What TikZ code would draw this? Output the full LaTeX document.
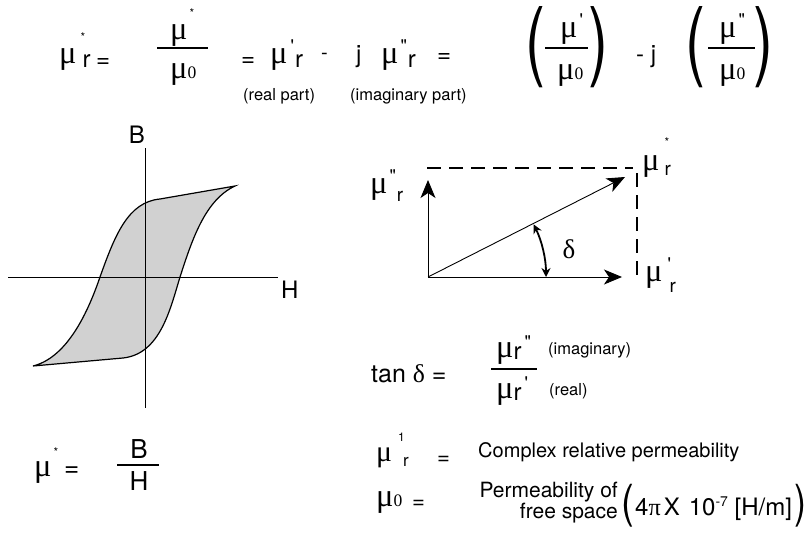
\documentclass[tikz,border=0pt]{standalone}
\usepackage{fontspec}
\setmainfont{TeX Gyre Heros}
\newfontfamily\grk[Scale=1.35]{Liberation Serif}
\usepackage{tikz}
\usetikzlibrary{arrows.meta}

\newcommand{\gmu}{{\grk μ}}
\newcommand{\nought}{{\grk\fontsize{13}{13}\selectfont 0}}
\newcommand{\tick}[1]{{\fontsize{18}{18}\selectfont #1}}
\newcommand{\tinystar}{{\fontsize{12}{12}\selectfont *}}

\begin{document}
\begin{tikzpicture}[x=1pt,y=-1pt,
    txt/.style={anchor=base west,inner sep=0pt,font=\fontsize{24}{28}\selectfont},
    note/.style={anchor=base west,inner sep=0pt,font=\fontsize{16.5}{19}\selectfont},
    bar/.style={line width=2.2pt},
    vec/.style={line width=0.9pt,-{Stealth[length=18pt,width=15pt,inset=5pt]}},
    dashline/.style={line width=2.6pt,dash pattern=on 14pt off 8pt},
    swing/.style={line width=1.8pt,{Stealth[length=9pt,width=9pt]}-{Stealth[length=9pt,width=9pt]}}]
    \useasboundingbox (0,0) rectangle (806,533);

    \node[txt] (mur) at (59,63) {\gmu\kern4pt\rlap{\raisebox{22pt}{\tinystar}}\kern2pt\raisebox{-4pt}{r}};
    \node[txt] (eq1) at (96,67) {=};
    \node[txt] (num1) at (170,39) {\gmu\kern2pt\raisebox{22pt}{\tinystar}};
    \draw[bar] (157,48) -- (208,48);
    \node[txt] (den1) at (170,78) {\gmu\nought};
    \node[txt] (eq2) at (241,66) {=};
    \node[txt] (mur1) at (270,63) {\gmu\kern3pt\raisebox{11pt}{\tick{\textquotesingle}}\kern1pt\raisebox{-4pt}{r}};
    \node[txt] (minus) at (321,59) {\fontsize{20}{20}\selectfont -};
    \node[txt] (j1) at (356,62) {j};
    \node[txt] (mur2) at (381,63) {\gmu\kern2pt\raisebox{11pt}{\tick{\textquotedbl}}\kern1pt\raisebox{-4pt}{r}};
    \node[txt] (eq3) at (437,62) {=};
    \node[note] (re) at (243,100) {(real part)};
    \node[note] (im) at (350,100) {(imaginary part)};

    \node (lp1) at (535,47) {\fontsize{24}{24}\selectfont\scalebox{2.5}[3.6]{(}};
    \node[txt] (num2) at (560,37) {\gmu\kern2pt\raisebox{11pt}{\tick{\textquotesingle}}};
    \draw[bar] (545,48) -- (588,48);
    \node[txt] (den2) at (557,79) {\gmu\nought};
    \node (rp1) at (598,47) {\fontsize{24}{24}\selectfont\scalebox{2.5}[3.6]{)}};
    \node[txt] (mj) at (636,62) {- j};
    \node (lp2) at (695,47) {\fontsize{24}{24}\selectfont\scalebox{2.5}[3.6]{(}};
    \node[txt] (num3) at (719,37) {\gmu\kern2pt\raisebox{11pt}{\tick{\textquotedbl}}};
    \draw[bar] (708,48) -- (755,48);
    \node[txt] (den3) at (719,79) {\gmu\nought};
    \node (rp2) at (763,47) {\fontsize{24}{24}\selectfont\scalebox{2.5}[3.6]{)}};

    \coordinate (hl) at (8,277);
    \coordinate (hr) at (278,277);
    \coordinate (vt) at (145,148);
    \coordinate (vb) at (145,408);
    \filldraw[fill=black!18,line width=1.2pt] (33,366) .. controls (65,358) and (86,318) .. (100,277)
        .. controls (115,235) and (128,202) .. (160,199) -- (235,186)
        .. controls (205,200) and (192,240) .. (180,277)
        .. controls (170,310) and (160,354) .. (123,358) -- cycle;
    \draw[line width=0.8pt] (hl) -- (hr);
    \draw[line width=0.8pt] (vt) -- (vb);
    \node[txt,anchor=base] (B) at (137,143) {B};
    \node[txt] (H) at (281,298) {H};

    \coordinate (O) at (428,277);
    \coordinate (Im) at (428,180);
    \coordinate (Re) at (622,277);
    \coordinate (Z) at (625,177);
    \coordinate (tl) at (427,168);
    \coordinate (tr) at (633,168);
    \coordinate (rt) at (637,173);
    \coordinate (rb) at (637,280);
    \draw[dashline] (tl) -- (tr);
    \draw[dashline] (rt) -- (rb);
    \draw[vec] (O) -- (Im);
    \draw[vec] (O) -- (Re);
    \draw[vec] (O) -- (Z);
    \draw[swing] (546,277) arc[start angle=0,end angle=26.5,radius=118pt];
    \node[txt,anchor=center,font=\fontsize{20}{20}\selectfont\grk] (dl) at (569,249) {δ};
    \node[txt] (lim) at (370,193) {\gmu\kern2pt\raisebox{11pt}{\tick{\textquotedbl}}\kern1pt\raisebox{-8pt}{\fontsize{19}{19}\selectfont r}};
    \node[txt] (lz) at (642,170) {\gmu\kern5pt\rlap{\raisebox{24pt}{\tinystar}}\raisebox{-5pt}{\fontsize{19}{19}\selectfont r}};
    \node[txt] (lre) at (645,281) {\gmu\kern5pt\rlap{\raisebox{11pt}{\tick{\textquotesingle}}}\kern2pt\raisebox{-11pt}{\fontsize{19}{19}\selectfont r}};

    \node[txt,font=\fontsize{26}{30}\selectfont] (mustar) at (34,476) {{\grk\fontsize{24}{24}\selectfont μ}\kern2pt\raisebox{20pt}{\tinystar}};
    \node[txt,font=\fontsize{26}{30}\selectfont] (eq4) at (64,476) {=};
    \draw[bar] (117,465) -- (159,465);
    \node[txt,anchor=base,font=\fontsize{26}{30}\selectfont] (Bn) at (139,458) {B};
    \node[txt,anchor=base,font=\fontsize{26}{30}\selectfont] (Hn) at (139,490) {H};

    \node[txt,font=\fontsize{25}{30}\selectfont] (tan) at (371,382) {tan {\grk\fontsize{19}{19}\selectfont δ} =};
    \node[txt] (tnum) at (496,357) {\gmu\raisebox{-2pt}{r}\kern3pt\raisebox{9pt}{\tick{\textquotedbl}}};
    \draw[bar] (491,369) -- (537,369);
    \node[txt] (tden) at (496,398) {\gmu\raisebox{-2pt}{r}\kern3pt\raisebox{9pt}{\tick{\textquotesingle}}};
    \node[note] (timag) at (548,354) {(imaginary)};
    \node[note] (treal) at (549,395) {(real)};

    \node[txt,font=\fontsize{22}{26}\selectfont] (mu1) at (376,461) {\gmu\kern6pt\rlap{\raisebox{20pt}{\fontsize{12}{12}\selectfont 1}}\kern5pt\raisebox{-5pt}{\fontsize{17}{17}\selectfont r}};
    \node[txt,font=\fontsize{22}{26}\selectfont] (eq5) at (437,464) {=};
    \node[txt,font=\fontsize{20}{24}\selectfont] (cplx) at (478,457) {Complex relative permeability};
    \node[txt] (mu0) at (376,506) {\gmu\nought};
    \node[txt,font=\fontsize{22}{26}\selectfont] (eq6) at (412,508) {=};
    \node[txt,anchor=base east,font=\fontsize{21}{24}\selectfont] (perm) at (618,497) {Permeability of};
    \node[txt,anchor=base east,font=\fontsize{21}{24}\selectfont] (free) at (618,518) {free space};
    \node (lp3) at (628,506) {\fontsize{24}{24}\selectfont\scalebox{1.6}[1.9]{(}};
    \node[txt] (val) at (635,515) {4{\grk\fontsize{18}{18}\selectfont π}\kern3pt X\kern9pt 10\raisebox{9pt}{\fontsize{14}{14}\selectfont -7} [H/m]};
    \node (rp3) at (800,506) {\fontsize{24}{24}\selectfont\scalebox{1.5}[1.9]{)}};
\end{tikzpicture}
\end{document}
